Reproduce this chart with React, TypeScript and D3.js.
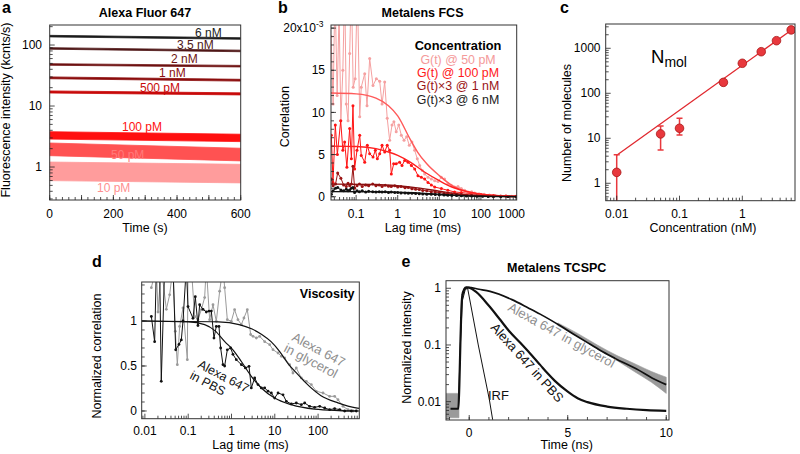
import React from 'react';
import * as d3 from 'd3';

type Pt = [number, number];

// ---------- Panel a: Alexa Fluor 647 intensity traces ----------
const aLabels = ['6 nM', '3.5 nM', '2 nM', '1 nM', '500 pM', '100 pM', '50 pM', '10 pM'];
const aTimes = [0, 600];
const aStart = [140, 88, 48, 29, 17, 3.3, 1.95, 0.85];
const aEnd = [128, 80, 45, 26.5, 15.8, 3.0, 1.6, 0.78];
const aSpread = [1.03, 1.03, 1.03, 1.035, 1.04, 1.15, 1.27, 1.42];
const aColors = ['#1c1c1c', '#4f1717', '#6e1212', '#8c0d0d', '#c80a0a', '#ff1010', '#ff5252', '#ff9c9c'];
const aLabelColors = ['#1c1c1c', '#4f1717', '#6e1212', '#8c0d0d', '#c80a0a', '#ff1010', '#ff7a7a', '#ff9090'];
const aXTicks = [0, 200, 400, 600];
const aYTicks = [1, 10, 100];

// ---------- Panel b: Metalens FCS ----------
const b50: Pt[] = [[0.025, 19], [0.028, 11], [0.031, 25], [0.035, 12], [0.039, 22], [0.043, 9], [0.048, 15], [0.053, 25], [0.058, 11], [0.064, 9], [0.07, 17], [0.077, 25], [0.085, 13], [0.095, 14], [0.107, 25], [0.122, 9.5], [0.133, 13], [0.161, 14.6], [0.183, 10.8], [0.212, 16.4], [0.255, 13.2], [0.306, 14.0], [0.369, 13.7], [0.42, 11.0], [0.486, 13.6], [0.56, 9.3], [0.64, 6.7], [0.73, 8.5], [0.81, 8.9], [0.92, 7.7], [1.06, 8.5], [1.22, 7.3], [1.42, 6.7], [1.64, 7.1], [1.9, 6.1], [2.2, 6.5], [2.56, 5.5], [2.96, 4.5], [3.38, 3.7], [3.9, 3.1], [4.46, 2.7], [5.35, 2.3], [6.43, 2.1], [7.75, 1.9], [9.3, 1.8], [11.2, 2.3], [13.4, 2.1], [16.1, 1.55], [19.4, 1.36], [23.3, 1.15], [28.2, 1.2], [33.8, 0.96], [40.7, 0.76], [49, 0.57], [60, 0.6], [71, 0.45], [90, 0.35], [120, 0.3], [160, 0.2], [220, 0.15], [300, 0.1], [400, 0.08], [550, 0.05], [700, 0.05]];
const b100: Pt[] = [[0.0254, 7.3], [0.0278, 1.7], [0.0316, 8.5], [0.0354, 5.0], [0.0426, 9.0], [0.048, 5.5], [0.053, 6.5], [0.06, 3.5], [0.07, 8.1], [0.077, 4.5], [0.084, 10.8], [0.092, 3.3], [0.105, 5.5], [0.122, 7.3], [0.133, 4.9], [0.161, 4.1], [0.186, 6.1], [0.212, 5.1], [0.255, 4.7], [0.29, 5.5], [0.324, 4.5], [0.369, 5.1], [0.42, 6.1], [0.486, 5.3], [0.56, 6.1], [0.64, 5.5], [0.703, 2.7], [0.8, 3.9], [0.92, 3.9], [1.11, 4.1], [1.27, 3.7], [1.47, 4.3], [1.77, 4.1], [2.13, 3.7], [2.56, 3.3], [3.07, 2.5], [3.7, 2.3], [4.46, 2.1], [5.35, 1.7], [6.43, 1.4], [7.75, 1.15], [11.2, 0.96], [16.1, 0.76], [23.3, 0.57], [33.8, 0.49], [58.8, 0.37], [100, 0.25], [200, 0.15], [400, 0.08], [700, 0.05]];
const b1n: Pt[] = [[0.0254, 2.1], [0.028, 1.3], [0.032, 1.5], [0.036, 2.8], [0.043, 2.2], [0.05, 1.4], [0.058, 1.2], [0.064, 1.6], [0.07, 1.3], [0.077, 1.5], [0.084, 3.6], [0.092, 1.0], [0.105, 1.3], [0.12, 1.5], [0.14, 1.2], [0.17, 1.4], [0.2, 1.3], [0.25, 1.5], [0.3, 1.3], [0.36, 1.4], [0.42, 1.2], [0.5, 1.35], [0.6, 1.25], [0.7, 1.2], [0.85, 1.3], [1.0, 1.15], [1.2, 1.2], [1.5, 1.05], [1.8, 1.1], [2.2, 0.95], [2.7, 0.9], [3.3, 0.85], [4, 0.75], [5, 0.7], [6.4, 0.6], [8, 0.55], [10, 0.5], [13, 0.42], [16, 0.38], [20, 0.32], [26, 0.28], [34, 0.22], [45, 0.18], [60, 0.15], [80, 0.12], [110, 0.1], [150, 0.08], [200, 0.06], [300, 0.05], [450, 0.03], [700, 0.02]];
const b6n: Pt[] = [[0.0254, 0.3], [0.028, 0.7], [0.032, 1.0], [0.036, 1.1], [0.043, 0.8], [0.05, 0.7], [0.058, 0.9], [0.064, 0.7], [0.07, 0.8], [0.077, 1.0], [0.084, 1.1], [0.092, 0.5], [0.105, 0.7], [0.12, 0.6], [0.14, 0.7], [0.17, 0.55], [0.2, 0.65], [0.25, 0.6], [0.3, 0.55], [0.36, 0.6], [0.42, 0.55], [0.5, 0.6], [0.6, 0.5], [0.7, 0.55], [0.85, 0.5], [1.0, 0.5], [1.2, 0.45], [1.5, 0.45], [1.8, 0.42], [2.2, 0.4], [2.7, 0.38], [3.3, 0.35], [4, 0.33], [5, 0.3], [6.4, 0.28], [8, 0.25], [10, 0.22], [13, 0.2], [16, 0.17], [20, 0.15], [26, 0.13], [34, 0.11], [45, 0.09], [60, 0.07], [80, 0.06], [110, 0.05], [150, 0.04], [200, 0.03], [300, 0.02], [450, 0.02], [700, 0.01]];
const bFit50: Pt[] = [[0.024, 12.3], [0.1, 12.2], [0.3, 11.7], [0.6, 10.8], [1, 9.6], [2, 6.8], [3, 5.3], [5, 3.9], [10, 2.5], [20, 1.35], [50, 0.55], [100, 0.28], [300, 0.1], [730, 0.04]];
const bFit100: Pt[] = [[0.024, 6.0], [0.1, 5.95], [0.3, 5.7], [0.6, 5.3], [1, 4.9], [2, 4.1], [4.5, 2.9], [10, 1.9], [20, 1.15], [60, 0.5], [150, 0.2], [400, 0.08], [730, 0.05]];
const bFit1n: Pt[] = [[0.024, 1.5], [0.3, 1.45], [1, 1.3], [3, 1.05], [10, 0.65], [30, 0.32], [100, 0.12], [300, 0.04], [730, 0.02]];
const bFit6n: Pt[] = [[0.024, 0.6], [0.3, 0.58], [1, 0.53], [3, 0.45], [10, 0.3], [30, 0.15], [100, 0.06], [730, 0.01]];
const bLegend = ['G(t) @ 50 pM', 'G(t) @ 100 pM', 'G(t)×3 @ 1 nM', 'G(t)×3 @ 6 nM'];
const bDataColors = ['#f5a0a0', '#ff1414', '#9b1414', '#111111'];
const bFitColors = ['#ff5a5a', '#ff2020', '#8b1010', '#111111'];
const bLegendColors = ['#f49a9a', '#ff1a1a', '#9a1515', '#222222'];
const bXTicks = [0.1, 1, 10, 100, 1000];
const bYTicks = [0, 5, 10, 15, 20];

// ---------- Panel c: number of molecules ----------
const cConc = [0.01, 0.05, 0.1, 0.5, 1, 2, 3.5, 6];
const cN = [1.75, 12.5, 16.7, 175, 464, 840, 1475, 2560];
const cErrLo = [0.1, 5.5, 11.8, 155, 420, 800, 1420, 2480];
const cErrHi = [4.3, 18.8, 27.8, 195, 510, 880, 1530, 2650];
const cFit: Pt[] = [[0.01, 4.2], [6, 2520]];
const cXTicks = [0.01, 0.1, 1];
const cYTicks = [1, 10, 100, 1000];

// ---------- Panel d: viscosity ----------
const dGly: Pt[] = [[0.0141, 1.37], [0.0184, 1.6], [0.0201, 1.1], [0.0239, 1.6], [0.0313, 1.13], [0.0373, 1.29], [0.0446, 1.6], [0.0504, 0.885], [0.0561, 0.515], [0.0635, 0.94], [0.0759, 1.144], [0.0955, 0.57], [0.099, 1.6], [0.118, 1.6], [0.141, 1.05], [0.168, 1.015], [0.201, 1.126], [0.24, 1.26], [0.262, 1.6], [0.313, 1.015], [0.374, 1.18], [0.446, 0.996], [0.533, 1.33], [0.636, 1.6], [0.695, 1.37], [0.801, 1.015], [0.99, 0.996], [1.18, 1.126], [1.41, 1.015], [1.69, 0.96], [1.94, 1.033], [2.32, 1.126], [2.77, 0.85], [3.14, 0.83], [3.75, 0.811], [4.47, 0.83], [5.84, 0.77], [7.62, 0.737], [9.09, 0.681], [11.9, 0.644], [14.2, 0.607], [16.9, 0.589], [22, 0.515], [26.3, 0.422], [31.4, 0.478], [41, 0.367], [53.5, 0.33], [69.7, 0.293], [91, 0.219], [130, 0.2], [185, 0.163], [241, 0.163], [288, 0.126], [376, 0.052], [490, 0.015], [640, 0.0]];
const dPbs: Pt[] = [[0.0141, 1.05], [0.0168, 0.77], [0.0184, 1.6], [0.0219, 1.6], [0.0239, 0.33], [0.0286, 1.6], [0.0373, 1.6], [0.0446, 1.6], [0.0514, 0.68], [0.0613, 0.74], [0.0694, 0.79], [0.0759, 1.0], [0.0906, 1.6], [0.099, 1.16], [0.129, 1.03], [0.146, 1.27], [0.168, 0.95], [0.184, 1.18], [0.22, 1.13], [0.262, 1.1], [0.302, 1.11], [0.342, 1.11], [0.394, 0.81], [0.446, 0.94], [0.514, 0.94], [0.562, 0.70], [0.636, 0.515], [0.695, 0.50], [0.801, 0.68], [0.957, 0.70], [1.08, 0.63], [1.29, 0.57], [1.69, 0.515], [2.09, 0.478], [2.54, 0.496], [2.87, 0.256], [3.43, 0.367], [4.09, 0.293], [4.89, 0.256], [5.84, 0.256], [6.97, 0.22], [8.32, 0.2], [9.93, 0.144], [11.9, 0.2], [15.5, 0.18], [18.5, 0.107], [24.1, 0.078], [31.4, 0.089], [41, 0.07], [49, 0.089], [63.9, 0.052], [83.3, 0.041], [109, 0.052], [142, 0.033], [185, 0.015], [241, 0.026], [315, 0.015], [411, 0], [585, 0], [764, 0]];
const dFitPbs: Pt[] = [[0.0085, 1.0], [0.1, 0.99], [0.24, 0.96], [0.42, 0.89], [0.7, 0.77], [1.08, 0.68], [1.69, 0.55], [2.87, 0.385], [4.89, 0.256], [9.93, 0.144], [24, 0.07], [83, 0.02], [300, 0.005], [900, 0]];
const dFitGly: Pt[] = [[0.0085, 1.0], [0.5, 0.99], [1.5, 0.96], [3, 0.91], [5, 0.85], [8.2, 0.77], [13, 0.66], [20, 0.53], [32, 0.42], [50, 0.32], [117, 0.17], [288, 0.09], [750, 0.035], [900, 0.03]];
const dXTicks = [0.01, 0.1, 1, 10, 100];
const dYTicks = [0, 0.5, 1];

// ---------- Panel e: Metalens TCSPC ----------
const eIrf: Pt[] = [[-0.55, 0.0076], [-0.45, 0.1], [-0.35, 0.6], [-0.2, 0.95], [-0.08, 1.0], [0.46, 0.1], [1.02, 0.011], [1.19, 0.0048]];
const ePbs: Pt[] = [[-0.95, 0.0075], [-0.55, 0.0075], [-0.5, 0.02], [-0.45, 0.1], [-0.4, 0.4], [-0.35, 0.75], [-0.25, 0.97], [-0.15, 1.04], [0, 1.02], [0.35, 0.86], [1.0, 0.49], [1.53, 0.29], [2.0, 0.18], [2.58, 0.11], [3.1, 0.07], [3.59, 0.045], [4.0, 0.031], [4.36, 0.023], [5, 0.015], [5.5, 0.0115], [6, 0.0098], [7, 0.0082], [8, 0.0075], [9, 0.0071], [10, 0.0069]];
const eGlyFit: Pt[] = [[-0.35, 0.75], [-0.2, 1.0], [-0.05, 1.04], [0.5, 0.96], [1.06, 0.88], [2.17, 0.63], [3.0, 0.45], [3.6, 0.35], [4.6, 0.22], [5.3, 0.155], [6.1, 0.105], [6.8, 0.075], [7.4, 0.058], [8.6, 0.036], [9.3, 0.026], [10, 0.02]];
const eGlyBandT = [4.5, 5.5, 6.5, 7.5, 8.5, 9.25, 10];
const eGlyBandHi = [0.245, 0.16, 0.1, 0.065, 0.045, 0.034, 0.027];
const eGlyBandLo = [0.22, 0.14, 0.085, 0.053, 0.032, 0.022, 0.014];
const eNoiseT = [-1.18, -0.52];
const eNoiseHi = [0.014, 0.014];
const eNoiseLo = [0.0052, 0.0052];
const eXTicks = [0, 5, 10];
const eYTicks = [0.01, 0.1, 1];

const FONT = "'Liberation Sans', Arial, Helvetica, sans-serif";
const AX = '#222';

function logTicks(lo: number, hi: number) {
  const major: number[] = [];
  const minor: number[] = [];
  for (let e = Math.floor(Math.log10(lo)); e <= Math.ceil(Math.log10(hi)); e++) {
    for (let k = 1; k <= 9; k++) {
      const v = +(k * Math.pow(10, e)).toPrecision(6);
      if (v < lo || v > hi) continue;
      (k === 1 ? major : minor).push(v);
    }
  }
  return { major, minor };
}

function linTicks(lo: number, hi: number, step: number) {
  const out: number[] = [];
  for (let v = Math.ceil(lo / step) * step; v <= hi + 1e-9; v += step) out.push(+v.toFixed(6));
  return out;
}

type Sc = (v: number) => number;

function LeftTicks({ s, x, major, minor }: { s: Sc; x: number; major: number[]; minor: number[] }) {
  return (
    <g stroke={AX} strokeWidth={0.8}>
      {minor.map((v, i) => <line key={'m' + i} x1={x} x2={x + 3} y1={s(v)} y2={s(v)} />)}
      {major.map((v, i) => <line key={'M' + i} x1={x} x2={x + 5} y1={s(v)} y2={s(v)} />)}
    </g>
  );
}

function BottomTicks({ s, y, major, minor }: { s: Sc; y: number; major: number[]; minor: number[] }) {
  return (
    <g stroke={AX} strokeWidth={0.8}>
      {minor.map((v, i) => <line key={'m' + i} y1={y} y2={y - 3} x1={s(v)} x2={s(v)} />)}
      {major.map((v, i) => <line key={'M' + i} y1={y} y2={y - 5} x1={s(v)} x2={s(v)} />)}
    </g>
  );
}

function Frame({ l, r, t, b }: { l: number; r: number; t: number; b: number }) {
  return <rect x={l} y={t} width={r - l} height={b - t} fill="none" stroke="#333" strokeWidth={1} />;
}

function Clip({ id, l, r, t, b }: { id: string; l: number; r: number; t: number; b: number }) {
  return (
    <clipPath id={id}>
      <rect x={l} y={t} width={r - l} height={b - t} />
    </clipPath>
  );
}

export default function App() {
  // ---- panel a ----
  const A = { l: 49.7, r: 240.7, t: 25, b: 200 };
  const ax = d3.scaleLinear().domain([0, 600]).range([A.l, A.r]);
  const ay = d3.scaleLog().domain([0.288, 213]).range([A.b, A.t]);
  const aLog = logTicks(0.288, 213);

  // ---- panel b ----
  const B = { l: 331, r: 516.7, t: 25, b: 200 };
  const bx = d3.scaleLog().domain([0.0249, 726]).range([B.l, B.r]);
  const by = d3.scaleLinear().domain([-0.39, 20.37]).range([B.b, B.t]);
  const bLog = logTicks(0.0249, 726);
  const bLine = d3.line<Pt>().x(d => bx(d[0])).y(d => by(d[1]));
  const bFitLine = d3.line<Pt>().x(d => bx(d[0])).y(d => by(d[1])).curve(d3.curveMonotoneX);
  const bSeries = [b50, b100, b1n, b6n];
  const bFits = [bFit50, bFit100, bFit1n, bFit6n];

  // ---- panel c ----
  const C = { l: 605.7, r: 795, t: 24, b: 200.7 };
  const cx = d3.scaleLog().domain([0.00668, 6.9]).range([C.l, C.r]);
  const cy = d3.scaleLog().domain([0.41, 3465]).range([C.b, C.t]);
  const cxT = logTicks(0.00668, 6.9);
  const cyT = logTicks(0.41, 3465);
  const cLine = d3.line<Pt>().x(d => cx(d[0])).y(d => cy(d[1]));

  // ---- panel d ----
  const D = { l: 141.7, r: 359.3, t: 282, b: 418.7 };
  const dx = d3.scaleLog().domain([0.00844, 895]).range([D.l, D.r]);
  const dy = d3.scaleLinear().domain([-0.0856, 1.433]).range([D.b, D.t]);
  const dLog = logTicks(0.00844, 895);
  const dLine = d3.line<Pt>().x(d => dx(d[0])).y(d => dy(d[1]));
  const dFitLine = d3.line<Pt>().x(d => dx(d[0])).y(d => dy(d[1])).curve(d3.curveMonotoneX);

  // ---- panel e ----
  const E = { l: 446, r: 669, t: 280.7, b: 420 };
  const ex = d3.scaleLinear().domain([-1.178, 10.14]).range([E.l, E.r]);
  const ey = d3.scaleLog().domain([0.00475, 1.36]).range([E.b, E.t]);
  const eLog = logTicks(0.00475, 1.36);
  const eLine = d3.line<Pt>().x(d => ex(d[0])).y(d => ey(d[1]));
  const eSmooth = d3.line<Pt>().x(d => ex(d[0])).y(d => ey(d[1])).curve(d3.curveMonotoneX);
  const eBand = (t: number[], lo: number[], hi: number[]) =>
    d3.area<number>().x(i => ex(t[i])).y0(i => ey(lo[i])).y1(i => ey(hi[i])).curve(d3.curveMonotoneX)(t.map((_, i) => i)) || '';

  const fs = 12;

  return (
    <svg width={800} height={454} viewBox="0 0 800 454" fontFamily={FONT}
      style={{ position: 'absolute', left: 0, top: 0, display: 'block', background: '#fff' }}>
      <defs>
        <Clip id="clipA" {...A} />
        <Clip id="clipB" {...B} />
        <Clip id="clipC" {...C} />
        <Clip id="clipD" {...D} />
        <Clip id="clipE" {...E} />
      </defs>
      <rect x={0} y={0} width={800} height={454} fill="#fff" />

      {/* ================= Panel a ================= */}
      <text x={2} y={13} fontSize={16} fontWeight="bold">a</text>
      <text x={145} y={17} fontSize={12.5} fontWeight="bold" textAnchor="middle">Alexa Fluor 647</text>
      <g clipPath="url(#clipA)">
        {aLabels.map((_, i) => {
          const area = d3.area<number>()
            .x(j => ax(aTimes[j]))
            .y0(j => ay((j === 0 ? aStart[i] : aEnd[i]) / aSpread[i]))
            .y1(j => ay((j === 0 ? aStart[i] : aEnd[i]) * aSpread[i]));
          return <path key={i} d={area(aTimes.map((_, j) => j)) || ''} fill={aColors[i]} stroke={aColors[i]} strokeWidth={0.8} />;
        })}
      </g>
      {[[195, 36.5], [177, 48.5], [171, 62.8], [159, 76.8], [140, 91.8], [122, 131], [111, 159], [97, 191.5]].map((p, i) => (
        <text key={i} x={p[0]} y={p[1]} fontSize={12} fill={aLabelColors[i]}>{aLabels[i]}</text>
      ))}
      <LeftTicks s={ay} x={A.l} major={aLog.major} minor={aLog.minor} />
      <BottomTicks s={ax} y={A.b} major={linTicks(0, 600, 100)} minor={linTicks(0, 600, 20)} />
      <Frame {...A} />
      {aYTicks.map(v => (
        <text key={v} x={42} y={ay(v)} dy="0.35em" fontSize={fs} textAnchor="end">{v}</text>
      ))}
      {aXTicks.map(v => (
        <text key={v} x={ax(v)} y={217.5} fontSize={fs} textAnchor="middle">{v}</text>
      ))}
      <text x={145} y={232} fontSize={12.5} textAnchor="middle">Time (s)</text>
      <text transform="translate(10,110) rotate(-90)" fontSize={12.5} textAnchor="middle">Fluorescence intensity (kcnts/s)</text>

      {/* ================= Panel b ================= */}
      <text x={278} y={13} fontSize={16} fontWeight="bold">b</text>
      <text x={422.5} y={17} fontSize={12.5} fontWeight="bold" textAnchor="middle">Metalens FCS</text>
      <g clipPath="url(#clipB)">
        {bSeries.map((s, i) => (
          <g key={i}>
            <path d={bLine(s) || ''} fill="none" stroke={bDataColors[i]} strokeWidth={1} />
            {s.map((p, j) => <circle key={j} cx={bx(p[0])} cy={by(p[1])} r={1.5} fill={bDataColors[i]} />)}
          </g>
        ))}
        {bFits.map((s, i) => (
          <path key={i} d={bFitLine(s) || ''} fill="none" stroke={bFitColors[i]} strokeWidth={1.4} />
        ))}
      </g>
      <LeftTicks s={by} x={B.l} major={bYTicks} minor={linTicks(0, 20, 1)} />
      <BottomTicks s={bx} y={B.b} major={bLog.major} minor={bLog.minor} />
      <Frame {...B} />
      {bYTicks.map(v => (
        v === 20 ? (
          <text key={v} x={323.5} y={by(v)} dy="0.35em" fontSize={fs} textAnchor="end">
            20x10<tspan dy={-5} fontSize={8.5}>-3</tspan>
          </text>
        ) : (
          <text key={v} x={325} y={by(v)} dy="0.35em" fontSize={fs} textAnchor="end">{v}</text>
        )
      ))}
      {bXTicks.map(v => (
        v > 726 ? (
          <text key={v} x={525} y={217.5} fontSize={fs} textAnchor="end">{v}</text>
        ) : (
          <text key={v} x={bx(v)} y={217.5} fontSize={fs} textAnchor="middle">{v}</text>
        )
      ))}
      <text x={423} y={232} fontSize={12.5} textAnchor="middle">Lag time (ms)</text>
      <text transform="translate(288.5,116.7) rotate(-90)" fontSize={12.5} textAnchor="middle">Correlation</text>
      <text x={458} y={49.5} fontSize={12.8} fontWeight="bold" textAnchor="middle">Concentration</text>
      {bLegend.map((t, i) => (
        <text key={i} x={458} y={63.5 + i * 13.4} fontSize={12.4} textAnchor="middle" fill={bLegendColors[i]}>{t}</text>
      ))}

      {/* ================= Panel c ================= */}
      <text x={560} y={13} fontSize={16} fontWeight="bold">c</text>
      <g clipPath="url(#clipC)">
        <path d={cLine(cFit) || ''} fill="none" stroke="#e0282e" strokeWidth={1.3} />
        {cConc.map((c, i) => (
          <g key={i} stroke="#e8383d" strokeWidth={1.5}>
            <line x1={cx(c)} x2={cx(c)} y1={cy(cErrLo[i])} y2={cy(cErrHi[i])} />
            <line x1={cx(c) - 3} x2={cx(c) + 3} y1={cy(cErrLo[i])} y2={cy(cErrLo[i])} />
            <line x1={cx(c) - 3} x2={cx(c) + 3} y1={cy(cErrHi[i])} y2={cy(cErrHi[i])} />
          </g>
        ))}
        {cConc.map((c, i) => (
          <circle key={i} cx={cx(c)} cy={cy(cN[i])} r={4.3} fill="#e8383d" stroke="#a81818" strokeWidth={0.8} />
        ))}
      </g>
      <LeftTicks s={cy} x={C.l} major={cyT.major} minor={cyT.minor} />
      <BottomTicks s={cx} y={C.b} major={cxT.major} minor={cxT.minor} />
      <Frame {...C} />
      {cYTicks.map(v => (
        <text key={v} x={600.5} y={cy(v)} dy="0.35em" fontSize={fs} textAnchor="end">{v}</text>
      ))}
      {cXTicks.map(v => (
        <text key={v} x={cx(v)} y={217.5} fontSize={fs} textAnchor="middle">{v}</text>
      ))}
      <text x={703} y={232} fontSize={12.5} textAnchor="middle">Concentration (nM)</text>
      <text transform="translate(570.5,123) rotate(-90)" fontSize={12.5} textAnchor="middle">Number of molecules</text>
      <text x={651} y={63.3} fontSize={18.5}>N<tspan fontSize={14} dy={3.4}>mol</tspan></text>

      {/* ================= Panel d ================= */}
      <text x={92} y={267} fontSize={16} fontWeight="bold">d</text>
      <g clipPath="url(#clipD)">
        <path d={dLine(dGly) || ''} fill="none" stroke="#9a9a9a" strokeWidth={1} />
        {dGly.map((p, j) => <circle key={j} cx={dx(p[0])} cy={dy(p[1])} r={1.4} fill="#9a9a9a" />)}
        <path d={dLine(dPbs) || ''} fill="none" stroke="#111" strokeWidth={1} />
        {dPbs.map((p, j) => <circle key={j} cx={dx(p[0])} cy={dy(p[1])} r={1.4} fill="#111" />)}
        <path d={dFitLine(dFitPbs) || ''} fill="none" stroke="#111" strokeWidth={1.2} />
        <path d={dFitLine(dFitGly) || ''} fill="none" stroke="#111" strokeWidth={1.2} />
      </g>
      <LeftTicks s={dy} x={D.l} major={dYTicks} minor={linTicks(0, 1.4, 0.1)} />
      <BottomTicks s={dx} y={D.b} major={dLog.major} minor={dLog.minor} />
      <Frame {...D} />
      {dYTicks.map(v => (
        <text key={v} x={137} y={dy(v)} dy="0.35em" fontSize={fs} textAnchor="end">{v}</text>
      ))}
      {dXTicks.map(v => (
        <text key={v} x={dx(v)} y={434.5} fontSize={fs} textAnchor="middle">{v}</text>
      ))}
      <text x={250.5} y={449} fontSize={12.5} textAnchor="middle">Lag time (ms)</text>
      <text transform="translate(101,356) rotate(-90)" fontSize={12.5} textAnchor="middle">Normalized correlation</text>
      <text x={354.5} y={298} fontSize={12.5} fontWeight="bold" textAnchor="end">Viscosity</text>
      <text transform="translate(197,367) rotate(28)" fontSize={12.5} fill="#111">
        <tspan x={0} y={0}>Alexa 647</tspan>
        <tspan x={-2} y={13.5}>in PBS</tspan>
      </text>
      <text transform="translate(291,340) rotate(28)" fontSize={13} fill="#8e8e8e">
        <tspan x={0} y={0}>Alexa 647</tspan>
        <tspan x={-2} y={13.5}>in glycerol</tspan>
      </text>

      {/* ================= Panel e ================= */}
      <text x={401.5} y={267} fontSize={16} fontWeight="bold">e</text>
      <text x={556.7} y={271.5} fontSize={12.5} fontWeight="bold" textAnchor="middle">Metalens TCSPC</text>
      <g clipPath="url(#clipE)">
        <path d={eBand(eNoiseT, eNoiseLo, eNoiseHi)} fill="#9a9a9a" stroke="#9a9a9a" strokeWidth={0.6} />
        <path d={eBand(eGlyBandT, eGlyBandLo, eGlyBandHi)} fill="#9a9a9a" stroke="#9a9a9a" strokeWidth={0.6} />
        <path d={eLine(eIrf) || ''} fill="none" stroke="#111" strokeWidth={1} />
        <path d={eSmooth(eGlyFit) || ''} fill="none" stroke="#111" strokeWidth={1.7} />
        <path d={eSmooth(ePbs) || ''} fill="none" stroke="#111" strokeWidth={2.2} />
      </g>
      <LeftTicks s={ey} x={E.l} major={eLog.major} minor={eLog.minor} />
      <BottomTicks s={ex} y={E.b} major={eXTicks} minor={linTicks(-1, 10, 1)} />
      <Frame {...E} />
      {eYTicks.map(v => (
        <text key={v} x={441} y={ey(v)} dy="0.35em" fontSize={fs} textAnchor="end">{v}</text>
      ))}
      {eXTicks.map(v => (
        <text key={v} x={ex(v)} y={436.5} fontSize={fs} textAnchor="middle">{v}</text>
      ))}
      <text x={566.7} y={449} fontSize={12.5} textAnchor="middle">Time (ns)</text>
      <text transform="translate(410.5,347.5) rotate(-90)" fontSize={12.5} textAnchor="middle">Normalized intensity</text>
      <text transform="translate(507,310) rotate(29)" fontSize={13} fill="#8e8e8e">Alexa 647 in glycerol</text>
      <text transform="translate(490,328) rotate(48)" fontSize={13} fill="#111">Alexa 647 in PBS</text>
      <text x={488} y={400} fontSize={13} fill="#111">IRF</text>
    </svg>
  );
}
